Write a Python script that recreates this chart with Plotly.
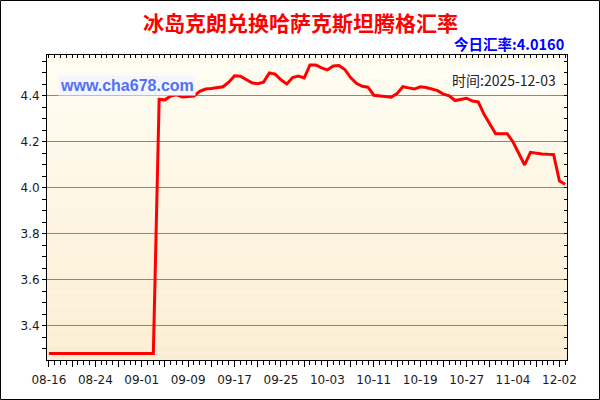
import plotly.graph_objects as go

# ---- data ----
tick_labels = ["08-16", "08-24", "09-01", "09-09", "09-17", "09-25",
               "10-03", "10-11", "10-19", "10-27", "11-04", "12-02"]
rates = [
    3.28, 3.28, 3.28, 3.28, 3.28, 3.28, 3.28, 3.28, 3.28, 3.28,
    3.28, 3.28, 3.28, 3.28, 3.28, 3.28, 3.28, 3.28, 3.28, 4.385,
    4.383, 4.400, 4.405, 4.395, 4.397, 4.400, 4.420, 4.430, 4.432, 4.435,
    4.440, 4.460, 4.488, 4.486, 4.470, 4.457, 4.453, 4.460, 4.500, 4.495,
    4.470, 4.452, 4.480, 4.486, 4.478, 4.535, 4.535, 4.522, 4.513, 4.530,
    4.532, 4.515, 4.480, 4.455, 4.442, 4.438, 4.403, 4.401, 4.396, 4.394,
    4.410, 4.440, 4.435, 4.430, 4.440, 4.437, 4.430, 4.423, 4.408, 4.400,
    4.380, 4.385, 4.390, 4.378, 4.374, 4.320, 4.275, 4.236, 4.236, 4.236,
    4.200, 4.150, 4.100, 4.155, 4.150, 4.148, 4.146, 4.145, 4.030, 4.016,
]
title_text = "冰岛克朗兑换哈萨克斯坦腾格汇率"
today_text = "今日汇率:4.0160"
time_text = "时间:2025-12-03"
site_text = "www.cha678.com"

idx = list(range(len(rates)))
major_vals = list(range(0, 89, 4))
major_text = [tick_labels[v // 8] if v % 8 == 0 else "" for v in major_vals]

xr = [-0.33, 89.3]
yr = [3.252, 4.578]
W, H = 600, 400
L, R, T, B = 47, 33, 55, 40
pw, ph = W - L - R, H - T - B

fig = go.Figure()
fig.add_trace(go.Scatter(x=idx, y=rates, mode="lines",
                         line=dict(color="#FF0000", width=3),
                         hoverinfo="skip", showlegend=False))
fig.add_trace(go.Scatter(x=[idx[0]], y=[rates[0]], xaxis="x2", yaxis="y2",
                         mode="markers", marker=dict(opacity=0),
                         hoverinfo="skip", showlegend=False))

# background gradient bands
shapes = []
n = 40
top_c = (255, 253, 242)
bot_c = (252, 238, 212)
for i in range(n):
    t = i / (n - 1)
    c = tuple(round(top_c[k] + (bot_c[k] - top_c[k]) * t) for k in range(3))
    shapes.append(dict(type="rect", xref="paper", yref="paper",
                       x0=0, x1=1, y0=1 - (i + 1) / n, y1=1 - i / n,
                       fillcolor="rgb(%d,%d,%d)" % c, line=dict(width=0),
                       layer="below"))
# outer border
shapes.append(dict(type="rect", xref="paper", yref="paper",
                   x0=-(L - 0.5) / pw, x1=1 + (R - 0.5) / pw,
                   y0=-(B - 0.5) / ph, y1=1 + (T - 0.5) / ph,
                   line=dict(color="#000000", width=1), fillcolor="rgba(0,0,0,0)"))

axis_font = dict(family="DejaVu Sans, Verdana, sans-serif", size=12, color="#1a1a1a")

fig.update_layout(
    width=W, height=H,
    margin=dict(l=L, r=R, t=T, b=B, pad=0),
    paper_bgcolor="#FFFFFF",
    plot_bgcolor="rgba(0,0,0,0)",
    shapes=shapes,
    xaxis=dict(range=xr, tickmode="array", tickvals=major_vals, ticktext=major_text,
               ticks="outside", ticklen=6, tickcolor="#000", tickwidth=1,
               showgrid=False, zeroline=False, showline=True, linecolor="#000",
               linewidth=1, tickfont=axis_font, ticklabelstandoff=3,
               minor=dict(dtick=1, tick0=0, ticks="outside", ticklen=4,
                          tickcolor="#000", showgrid=False)),
    yaxis=dict(range=yr, tickmode="linear", tick0=3.4, dtick=0.2,
               tickformat=".1f", ticks="outside", ticklen=4, tickcolor="#000",
               showgrid=True, gridcolor="#B8860B", gridwidth=1,
               zeroline=False, showline=True, linecolor="#000", linewidth=1,
               tickfont=axis_font,
               minor=dict(dtick=0.05, tick0=3.4, ticks="outside", ticklen=4,
                          tickcolor="#000", showgrid=False)),
    xaxis2=dict(range=xr, overlaying="x", side="top", tickmode="linear",
                tick0=0, dtick=1, ticks="inside", ticklen=3, tickcolor="#000",
                showticklabels=False, showgrid=False, zeroline=False,
                showline=True, linecolor="#000"),
    yaxis2=dict(range=yr, overlaying="y", side="right", tickmode="linear",
                tick0=3.4, dtick=0.05, ticks="inside", ticklen=3, tickcolor="#000",
                showticklabels=False, showgrid=False, zeroline=False,
                showline=True, linecolor="#000"),
    annotations=[
        dict(text="<b>" + title_text + "</b>", xref="paper", yref="paper",
             x=(300 - L) / pw, y=1 + (T - 22) / ph, showarrow=False,
             xanchor="center", yanchor="middle",
             font=dict(family="Noto Sans CJK SC, sans-serif", size=21, color="#FF0000")),
        dict(text="<b>" + today_text + "</b>", xref="paper", yref="paper",
             x=(566 - L) / pw, y=1 + (T - 43) / ph, showarrow=False,
             xanchor="right", yanchor="middle",
             font=dict(family="Noto Sans CJK SC, sans-serif", size=14.5, color="#0000FF")),
        dict(text="<b>" + site_text + "</b>", xref="paper", yref="paper",
             x=(58 - L) / pw, y=1 - (85 - T) / ph, showarrow=False,
             xanchor="left", yanchor="middle", bgcolor="#F3F5FF", borderpad=1,
             font=dict(family="Liberation Sans, Arial, sans-serif", size=16, color="#5470F0")),
        dict(text=time_text, xref="paper", yref="paper",
             x=(558 - L) / pw, y=1 - (80 - T) / ph, showarrow=False,
             xanchor="right", yanchor="middle", bgcolor="#FFFFFF", borderpad=1,
             font=dict(family="Noto Sans CJK SC, sans-serif", size=14, color="#222222")),
    ],
)

fig.write_html("out.html", config={"displayModeBar": False},
               post_script="document.body.style.margin='0';document.body.style.padding='0';")
